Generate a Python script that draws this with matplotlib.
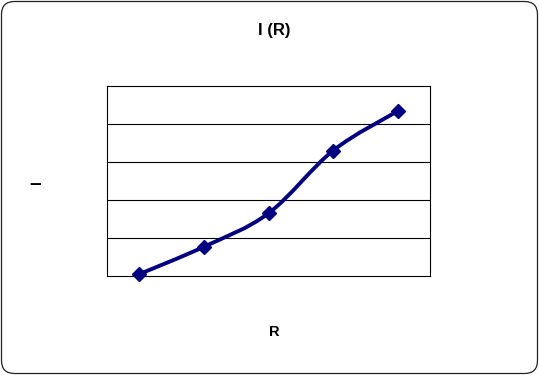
import numpy as np
import matplotlib
matplotlib.use("Agg")
import matplotlib.pyplot as plt
from matplotlib.path import Path
from matplotlib.patches import PathPatch, FancyBboxPatch

plt.rcParams['font.family'] = ['Liberation Sans', 'DejaVu Sans']

categories = [1, 2, 3, 4, 5]
values = [0.05, 0.77, 1.65, 3.3, 4.34]
title = "I (R)"
xlabel = "R"
ylabel = "–"

fig = plt.figure(figsize=(5.39, 3.75), dpi=100)
border = FancyBboxPatch((1.5, 1.5), 536, 372,
                        boxstyle="round,pad=0,rounding_size=13",
                        transform=None, facecolor='none',
                        edgecolor='#222222', linewidth=0.9, zorder=-1)
fig.patches.append(border)

ax = fig.add_axes([0.1985, 0.264, 0.5993, 0.5067])
x = np.arange(len(categories)) + 0.5
y = np.array(values)

# Smoothed line (Catmull-Rom style Bezier like Excel)
verts = [(x[0], y[0])]
codes = [Path.MOVETO]
n = len(x)
t = 1/6
for i in range(n - 1):
    p0 = (x[i-1], y[i-1]) if i > 0 else (x[i], y[i])
    p1 = (x[i], y[i])
    p2 = (x[i+1], y[i+1])
    p3 = (x[i+2], y[i+2]) if i + 2 < n else (x[i+1], y[i+1])
    c1 = (p1[0] + (p2[0]-p0[0])*t, p1[1] + (p2[1]-p0[1])*t)
    c2 = (p2[0] - (p3[0]-p1[0])*t, p2[1] - (p3[1]-p1[1])*t)
    verts += [c1, c2, p2]
    codes += [Path.CURVE4]*3
ax.add_patch(PathPatch(Path(verts, codes), facecolor='none', edgecolor='#000080',
                       linewidth=2.8, zorder=3, capstyle='round', joinstyle='round'))
ax.plot(x, y, linestyle='none', marker='D', markersize=7, color='#000080', zorder=4,
        clip_on=False)

ax.set_xlim(0, 5)
ax.set_ylim(0, 5)
ax.set_yticks([1, 2, 3, 4])
ax.set_xticks([])
ax.tick_params(left=False, labelleft=False)
ax.grid(axis='y', color='black', linewidth=0.8)
ax.set_axisbelow(True)
for s in ax.spines.values():
    s.set_color('black')
    s.set_linewidth(0.8)

fig.text(0.508, 0.918, title, ha='center', va='center', fontsize=12, fontweight='bold')
fig.text(0.508, 0.115, xlabel, ha='center', va='center', fontsize=10.5, fontweight='bold')
fig.text(0.065, 0.51, ylabel, ha='center', va='center', fontsize=15, fontweight='bold')

fig.savefig("out.png", dpi=100)
